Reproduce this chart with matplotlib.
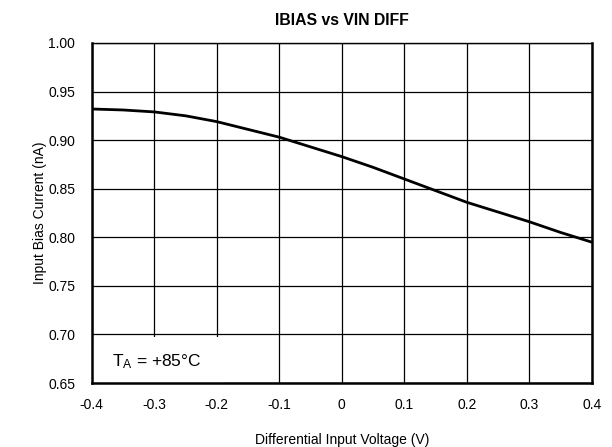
import matplotlib
matplotlib.use("Agg")
from matplotlib import pyplot as plt
from matplotlib.patches import Rectangle

plt.rcParams['font.family'] = ['Liberation Sans', 'DejaVu Sans']

# differential input voltage (V)
vin = [-0.40, -0.35, -0.30, -0.25, -0.20, -0.15, -0.10, -0.05, 0.00,
       0.05, 0.10, 0.15, 0.20, 0.25, 0.30, 0.35, 0.40]
# input bias current (nA)
ibias = [0.932, 0.931, 0.929, 0.925, 0.919, 0.911, 0.903, 0.893, 0.883,
         0.872, 0.860, 0.848, 0.836, 0.826, 0.816, 0.805, 0.795]

xticks = [-0.4, -0.3, -0.2, -0.1, 0, 0.1, 0.2, 0.3, 0.4]
xlabels = ['-0.4', '-0.3', '-0.2', '-0.1', '0', '0.1', '0.2', '0.3', '0.4']
yticks = [0.65, 0.70, 0.75, 0.80, 0.85, 0.90, 0.95, 1.00]

fig = plt.figure(figsize=(6.12, 4.47), dpi=100)
ax = fig.add_axes([0.150, 0.143, 0.817, 0.761])

ax.plot(vin, ibias, color='black', linewidth=2, zorder=3)

ax.set_xlim(-0.4, 0.4)
ax.set_ylim(0.65, 1.00)
ax.set_xticks(xticks)
ax.set_xticklabels(xlabels)
ax.set_yticks(yticks)
ax.set_yticklabels(['%.2f' % v for v in yticks])
ax.tick_params(length=0, labelsize=10)
ax.tick_params(axis='x', pad=11)
ax.tick_params(axis='y', pad=12)
ax.grid(True, color='black', linewidth=0.9)
ax.set_axisbelow(True)

for s in ax.spines.values():
    s.set_linewidth(1.8)
ax.spines['top'].set_linewidth(1.0)

# white box for the temperature note (covers the grid)
ax.add_patch(Rectangle((0, 0), 0.262, 0.135, transform=ax.transAxes,
                       facecolor='white', edgecolor='none', zorder=2))
ax.text(0.04, 0.062, r'$\mathregular{T_A}$ = +85°C', transform=ax.transAxes,
        fontsize=12.5, va='center', ha='left', zorder=4)

ax.set_title('IBIAS vs VIN DIFF', fontsize=11.3, fontweight='bold', pad=13)
ax.set_xlabel('Differential Input Voltage (V)', fontsize=10, labelpad=15)
ax.set_ylabel('Input Bias Current (nA)', fontsize=10, labelpad=1)

plt.savefig('out.png', dpi=100)
